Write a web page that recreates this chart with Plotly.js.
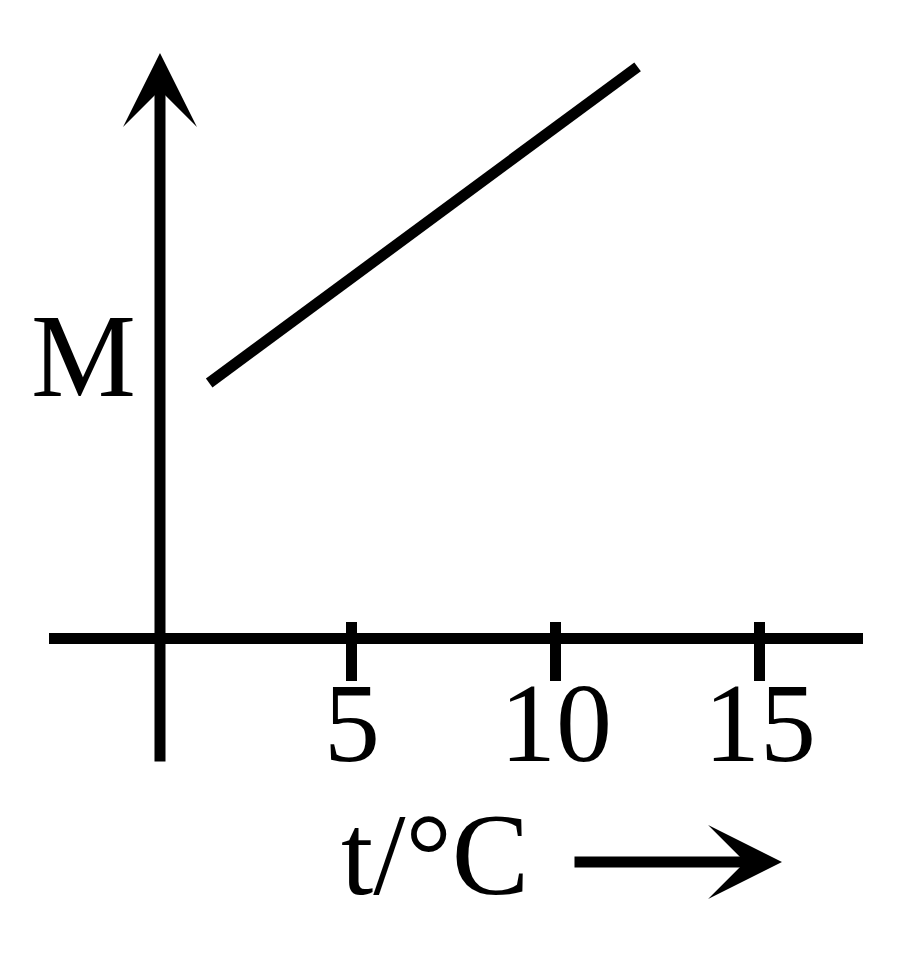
<!DOCTYPE html>
<html>
<head>
<meta charset="utf-8">
<script src="https://cdn.plot.ly/plotly-3.0.1.min.js"></script>
<style>
  html, body { margin: 0; padding: 0; background: #fff; }
  #chart { width: 900px; height: 954px; }
</style>
</head>
<body>
<div id="chart"></div>
<script>
// M against t, straight line
const tempC = [1.5, 12];
const mValues = [6.25, 14];

// axis ticks
const tickVals = [5, 10, 15];
const tickText = ['5', '10', '15'];

const serif = 'Liberation Serif, Times New Roman, serif';

const line = {
    x: tempC,
    y: mValues,
    type: 'scatter',
    mode: 'lines',
    line: { color: '#000', width: 11 },
    hoverinfo: 'none'
};

const layout = {
    width: 900,
    height: 954,
    margin: { l: 49, r: 37, t: 40, b: 184 },
    paper_bgcolor: '#fff',
    plot_bgcolor: '#fff',
    showlegend: false,
    xaxis: {
        range: [-2.426, 17.525],
        anchor: 'free',
        position: 0.2041,
        showgrid: false,
        zeroline: false,
        showline: false,
        ticks: 'outside',
        ticklen: 59,
        tickwidth: 11,
        tickcolor: '#000',
        tickvals: tickVals,
        ticktext: tickText,
        ticklabelstandoff: -54,
        tickfont: { family: serif, size: 112, color: '#000' }
    },
    yaxis: {
        range: [-3.235, 14.657],
        showgrid: false,
        showticklabels: false,
        ticks: '',
        showline: false,
        zeroline: true,
        zerolinecolor: '#000',
        zerolinewidth: 11
    },
    annotations: [
        // vertical axis with arrow head
        {
            xref: 'paper', yref: 'paper',
            x: 0.13636, y: 0.98219,
            ax: 0, ay: 710,
            text: '',
            showarrow: true,
            arrowhead: 3,
            arrowsize: 1.12,
            arrowwidth: 11,
            arrowcolor: '#000'
        },
        {
            xref: 'paper', yref: 'paper',
            x: 0.0418, y: 0.5671,
            xanchor: 'center', yanchor: 'middle',
            text: 'M',
            showarrow: false,
            font: { family: serif, size: 118, color: '#000' }
        },
        {
            xref: 'paper', yref: 'paper',
            x: 0.4742, y: -0.116,
            xanchor: 'center', yanchor: 'middle',
            text: 't/°C',
            showarrow: false,
            font: { family: serif, size: 116, color: '#000' }
        },
        // arrow after the x title
        {
            xref: 'paper', yref: 'paper',
            x: 0.90049, y: -0.12603,
            ax: -209, ay: 0,
            text: '',
            showarrow: true,
            arrowhead: 3,
            arrowsize: 1.12,
            arrowwidth: 11,
            arrowcolor: '#000'
        }
    ]
};

Plotly.newPlot('chart', [line], layout, { displayModeBar: false, staticPlot: true });
</script>
</body>
</html>
